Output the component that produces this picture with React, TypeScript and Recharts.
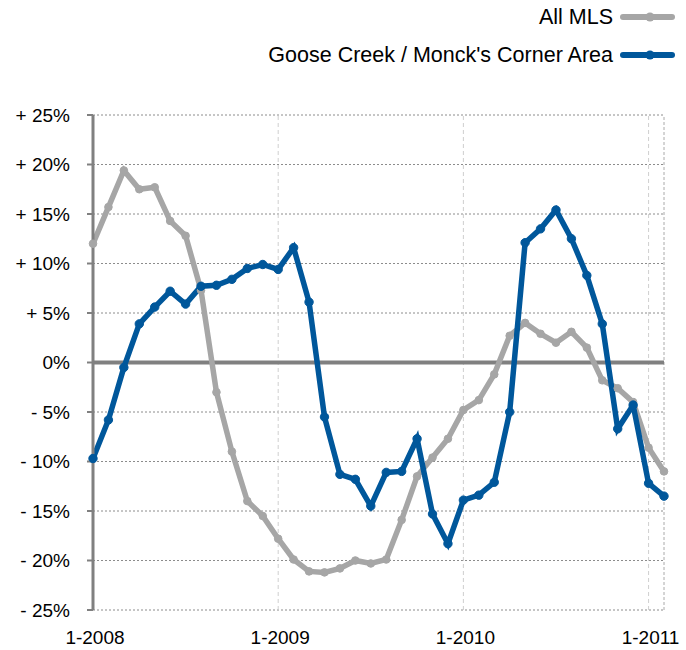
import React from "react";
import {
  LineChart,
  Line,
  XAxis,
  YAxis,
  CartesianGrid,
  ReferenceLine,
} from "recharts";

const months = [
  "1-2008", "2-2008", "3-2008", "4-2008", "5-2008", "6-2008",
  "7-2008", "8-2008", "9-2008", "10-2008", "11-2008", "12-2008",
  "1-2009", "2-2009", "3-2009", "4-2009", "5-2009", "6-2009",
  "7-2009", "8-2009", "9-2009", "10-2009", "11-2009", "12-2009",
  "1-2010", "2-2010", "3-2010", "4-2010", "5-2010", "6-2010",
  "7-2010", "8-2010", "9-2010", "10-2010", "11-2010", "12-2010",
  "1-2011", "2-2011",
];

const allMls = [
  12.0, 15.7, 19.4, 17.5, 17.7, 14.3, 12.8, 7.3, -3.0, -9.0, -14.0, -15.5,
  -17.8, -19.9, -21.1, -21.2, -20.8, -20.0, -20.3, -19.9, -15.9, -11.5, -9.6, -7.7,
  -4.8, -3.8, -1.2, 2.7, 4.0, 2.9, 2.0, 3.1, 1.5, -1.8, -2.6, -4.0,
  -8.6, -11.0,
];

const gooseCreek = [
  -9.7, -5.8, -0.5, 3.9, 5.6, 7.2, 5.9, 7.7, 7.8, 8.4, 9.5, 9.9,
  9.4, 11.6, 6.1, -5.5, -11.3, -11.8, -14.5, -11.1, -11.0, -7.7, -15.3, -18.3,
  -13.9, -13.4, -12.1, -5.0, 12.1, 13.5, 15.4, 12.5, 8.8, 3.9, -6.7, -4.3,
  -12.2, -13.5,
];

const yTicks = [-25, -20, -15, -10, -5, 0, 5, 10, 15, 20, 25];
const yearLines = ["1-2009", "1-2010", "1-2011"];

const GRAY = "#a6a6a6";
const BLUE = "#00579b";
const FONT = "'Liberation Sans', Arial, Helvetica, sans-serif";

const data = months.map((m, i) => ({
  month: m,
  all: allMls[i],
  goose: gooseCreek[i],
}));

const fmtPct = (v: number) => (v > 0 ? `+ ${v}%` : v < 0 ? `- ${-v}%` : "0%");

const YTick = (props: any) => {
  const { y, payload } = props;
  return (
    <text
      x={70}
      y={y}
      dy={6.5}
      textAnchor="end"
      fontSize={19}
      fontFamily={FONT}
      fill="#000"
    >
      {fmtPct(payload.value)}
    </text>
  );
};

const XTick = (props: any) => {
  const { x, y, payload } = props;
  return (
    <text
      x={x + 2}
      y={y + 26}
      textAnchor="middle"
      fontSize={19}
      fontFamily={FONT}
      fill="#000"
    >
      {payload.value}
    </text>
  );
};

const legendItems = [
  { label: "All MLS", color: GRAY, top: 5 },
  { label: "Goose Creek / Monck's Corner Area", color: BLUE, top: 43 },
];

export default function App() {
  return (
    <div
      style={{
        position: "absolute",
        left: 0,
        top: 0,
        width: 686,
        height: 650,
        background: "#fff",
        fontFamily: FONT,
      }}
    >
      {legendItems.map((item) => (
        <div
          key={item.label}
          style={{
            position: "absolute",
            top: item.top,
            right: 73,
            fontSize: 21.5,
            lineHeight: "24px",
            color: "#000",
            whiteSpace: "nowrap",
          }}
        >
          {item.label}
        </div>
      ))}
      <svg
        width={686}
        height={90}
        style={{ position: "absolute", left: 0, top: 0 }}
      >
        {legendItems.map((item) => (
          <g key={item.label}>
            <line
              x1={623}
              x2={672}
              y1={item.top + 12}
              y2={item.top + 12}
              stroke={item.color}
              strokeWidth={6}
              strokeLinecap="round"
            />
            <circle cx={650} cy={item.top + 12} r={4.5} fill={item.color} />
          </g>
        ))}
      </svg>
      <LineChart
        width={686}
        height={650}
        data={data}
        margin={{ top: 115, right: 22, left: 0, bottom: 0 }}
        style={{ position: "absolute", left: 0, top: 0 }}
      >
        <CartesianGrid
          vertical={false}
          stroke="#8c8c8c"
          strokeDasharray="2 2"
        />
        {yearLines.map((m) => (
          <ReferenceLine
            key={m}
            x={m}
            stroke="#cfcfcf"
            strokeDasharray="4 3"
          />
        ))}
        <ReferenceLine x="2-2011" stroke="#aaaaaa" strokeDasharray="3 2" />
        <ReferenceLine y={0} stroke="#808080" strokeWidth={4} />
        <XAxis
          dataKey="month"
          interval={11}
          axisLine={false}
          tickLine={false}
          height={40}
          tick={<XTick />}
        />
        <YAxis
          domain={[-25, 25]}
          ticks={yTicks}
          width={93}
          axisLine={{ stroke: "#808080", strokeWidth: 3 }}
          tickLine={{ stroke: "#808080", strokeWidth: 2 }}
          tickSize={6}
          tick={<YTick />}
          interval={0}
        />
        <Line
          dataKey="all"
          stroke={GRAY}
          strokeWidth={5.5}
          dot={{ r: 3.8, fill: GRAY, stroke: GRAY, strokeWidth: 1 }}
          isAnimationActive={false}
        />
        <Line
          dataKey="goose"
          stroke={BLUE}
          strokeWidth={5.5}
          dot={{ r: 4.2, fill: BLUE, stroke: BLUE, strokeWidth: 1 }}
          isAnimationActive={false}
        />
      </LineChart>
    </div>
  );
}
